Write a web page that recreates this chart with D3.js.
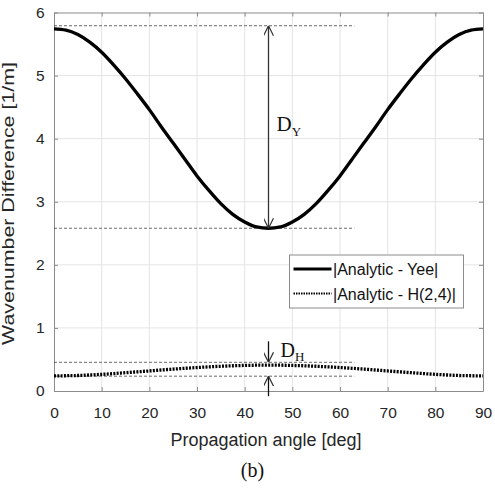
<!DOCTYPE html>
<html>
<head>
<meta charset="utf-8">
<script src="https://d3js.org/d3.v7.min.js"></script>
<style>
  body { margin: 0; background: #fff; }
  text { font-family: Arial, "Liberation Sans", sans-serif; }
  .serif { font-family: "Times New Roman", "Liberation Serif", serif; }
</style>
</head>
<body>
<script>
// data
const angles = [0, 2.5, 5, 7.5, 10, 12.5, 15, 17.5, 20, 22.5, 25, 27.5, 30, 32.5, 35, 37.5, 40, 42.5, 45,
                47.5, 50, 52.5, 55, 57.5, 60, 62.5, 65, 67.5, 70, 72.5, 75, 77.5, 80, 82.5, 85, 87.5, 90];
const yeeDiff = [5.74, 5.72, 5.65, 5.53, 5.37, 5.17, 4.95, 4.71, 4.46, 4.19, 3.93, 3.67, 3.41, 3.18, 2.97, 2.80, 2.68, 2.60, 2.58,
                 2.60, 2.68, 2.80, 2.97, 3.18, 3.41, 3.67, 3.93, 4.19, 4.46, 4.71, 4.95, 5.17, 5.37, 5.53, 5.65, 5.72, 5.74];
const h24Diff = [0.24, 0.242, 0.246, 0.254, 0.264, 0.276, 0.29, 0.304, 0.318, 0.333, 0.347, 0.36, 0.372, 0.383, 0.392, 0.40, 0.405, 0.409, 0.41,
                 0.409, 0.405, 0.40, 0.392, 0.383, 0.372, 0.36, 0.347, 0.333, 0.318, 0.304, 0.29, 0.276, 0.264, 0.254, 0.246, 0.242, 0.24];
const xTicks = [0, 10, 20, 30, 40, 50, 60, 70, 80, 90];
const yTicks = [0, 1, 2, 3, 4, 5, 6];
const seriesNames = ["|Analytic - Yee|", "|Analytic - H(2,4)|"];
// reference levels for the D_Y and D_H markers
const yeeLevels = [5.79, 2.58];
const hLevels = [0.455, 0.235];
const markAngle = 45, levelEnd = 63;

const W = 495, H = 490;
const margin = {top: 12.5, right: 12, bottom: 99, left: 54};
const width = W - margin.left - margin.right,
      height = H - margin.top - margin.bottom;

const svg = d3.select("body").append("svg")
    .attr("width", W).attr("height", H);

const defs = svg.append("defs");
defs.append("marker")
    .attr("id", "arr")
    .attr("viewBox", "0 0 10 10")
    .attr("refX", 10).attr("refY", 5)
    .attr("markerWidth", 10).attr("markerHeight", 10)
    .attr("markerUnits", "userSpaceOnUse")
    .attr("orient", "auto-start-reverse")
  .append("path")
    .attr("d", "M0,0 L10,5 L0,10")
    .attr("fill", "none").attr("stroke", "#333").attr("stroke-width", 1.2);

const g = svg.append("g")
    .attr("transform", `translate(${margin.left},${margin.top})`);

const x = d3.scaleLinear().domain([0, 90]).range([0, width]);
const y = d3.scaleLinear().domain([0, 6]).range([height, 0]);

// grid
g.append("g").selectAll("line").data(xTicks.slice(1, -1)).enter().append("line")
    .attr("x1", d => x(d)).attr("x2", d => x(d))
    .attr("y1", 0).attr("y2", height)
    .attr("stroke", "#e4e4e4");
g.append("g").selectAll("line").data(yTicks.slice(1, -1)).enter().append("line")
    .attr("y1", d => y(d)).attr("y2", d => y(d))
    .attr("x1", 0).attr("x2", width)
    .attr("stroke", "#e4e4e4");

// axes (ticks inside, box on)
const axisColor = "#8c8c8c";
g.append("g").attr("transform", `translate(0,${height})`)
    .call(d3.axisBottom(x).tickValues(xTicks).tickFormat(d3.format("d"))
      .tickSizeInner(-4).tickSizeOuter(0).tickPadding(15.5));
g.append("g")
    .call(d3.axisLeft(y).tickValues(yTicks).tickFormat(d3.format("d"))
      .tickSizeInner(-4).tickSizeOuter(0).tickPadding(9.5));
g.append("g")
    .call(d3.axisTop(x).tickValues(xTicks).tickSizeInner(-4).tickSizeOuter(0).tickFormat(""));
g.append("g").attr("transform", `translate(${width},0)`)
    .call(d3.axisRight(y).tickValues(yTicks).tickSizeInner(-4).tickSizeOuter(0).tickFormat(""));
g.selectAll(".domain, .tick line").attr("stroke", axisColor);
g.selectAll(".tick text").attr("fill", "#262626").style("font-size", "15.5px")
    .style("font-family", "Arial, 'Liberation Sans', sans-serif");

// curves
const line = d3.line().x((d, i) => x(angles[i])).y(d => y(d)).curve(d3.curveMonotoneX);

// dashed reference levels
const levels = yeeLevels.concat(hLevels);
g.append("g").selectAll("line").data(levels).enter().append("line")
    .attr("x1", x(0)).attr("x2", x(levelEnd))
    .attr("y1", d => y(d)).attr("y2", d => y(d))
    .attr("stroke", "#444").attr("stroke-width", 0.8)
    .attr("stroke-dasharray", "3,2");

g.append("path").datum(yeeDiff)
    .attr("d", line)
    .attr("fill", "none").attr("stroke", "#000").attr("stroke-width", 3.3);
g.append("path").datum(h24Diff)
    .attr("d", line)
    .attr("fill", "none").attr("stroke", "#000").attr("stroke-width", 3.3)
    .attr("stroke-dasharray", "2,1.3");

// D_Y double arrow
g.append("line")
    .attr("x1", x(markAngle)).attr("x2", x(markAngle))
    .attr("y1", y(yeeLevels[0])).attr("y2", y(yeeLevels[1]))
    .attr("stroke", "#333").attr("stroke-width", 1.3)
    .attr("marker-start", "url(#arr)").attr("marker-end", "url(#arr)");
const dy = g.append("text").attr("class", "serif")
    .attr("x", x(markAngle) + 8).attr("y", 130.5 - margin.top)
    .style("font-size", "21px").attr("fill", "#111");
dy.append("tspan").text("D");
dy.append("tspan").attr("dy", 5).style("font-size", "13px").text("Y");

// D_H arrows
g.append("line")
    .attr("x1", x(markAngle)).attr("x2", x(markAngle))
    .attr("y1", y(hLevels[0]) - 21).attr("y2", y(hLevels[0]))
    .attr("stroke", "#111").attr("stroke-width", 1.3)
    .attr("marker-end", "url(#arr)");
g.append("line")
    .attr("x1", x(markAngle)).attr("x2", x(markAngle))
    .attr("y1", y(hLevels[1]) + 20).attr("y2", y(hLevels[1]))
    .attr("stroke", "#111").attr("stroke-width", 1.3)
    .attr("marker-end", "url(#arr)");
const dh = g.append("text").attr("class", "serif")
    .attr("x", x(markAngle) + 12).attr("y", y(hLevels[0]) - 5)
    .style("font-size", "20px").attr("fill", "#111");
dh.append("tspan").text("D");
dh.append("tspan").attr("dy", 4).style("font-size", "13px").text("H");

// legend
const lg = svg.append("g").attr("transform", "translate(289.5,255)");
lg.append("rect").attr("width", 174).attr("height", 53)
    .attr("fill", "#fff").attr("stroke", "#8c8c8c").attr("stroke-width", 1);
seriesNames.forEach((name, i) => {
  const ly = 14 + i * 24.5;
  lg.append("line").attr("x1", 4).attr("x2", 42).attr("y1", ly).attr("y2", ly)
      .attr("stroke", "#000").attr("stroke-width", i === 0 ? 3 : 2.2)
      .attr("stroke-dasharray", i === 0 ? null : "1.5,1");
  lg.append("text").attr("x", 43.5).attr("y", ly + 6)
      .style("font-size", "16px").attr("fill", "#111").text(name);
});

// axis titles
svg.append("text")
    .attr("x", 266).attr("y", 446)
    .attr("text-anchor", "middle")
    .style("font-size", "18px").attr("fill", "#262626")
    .text("Propagation angle [deg]");
svg.append("text")
    .attr("transform", `translate(13.5,203.5) rotate(-90)`)
    .attr("text-anchor", "middle")
    .attr("textLength", 283).attr("lengthAdjust", "spacingAndGlyphs")
    .style("font-size", "16.5px").attr("fill", "#262626")
    .text("Wavenumber Difference [1/m]");

svg.append("text").attr("class", "serif")
    .attr("x", 252.5).attr("y", 477)
    .attr("text-anchor", "middle")
    .style("font-size", "20px").attr("fill", "#111")
    .text("(b)");
</script>
</body>
</html>
